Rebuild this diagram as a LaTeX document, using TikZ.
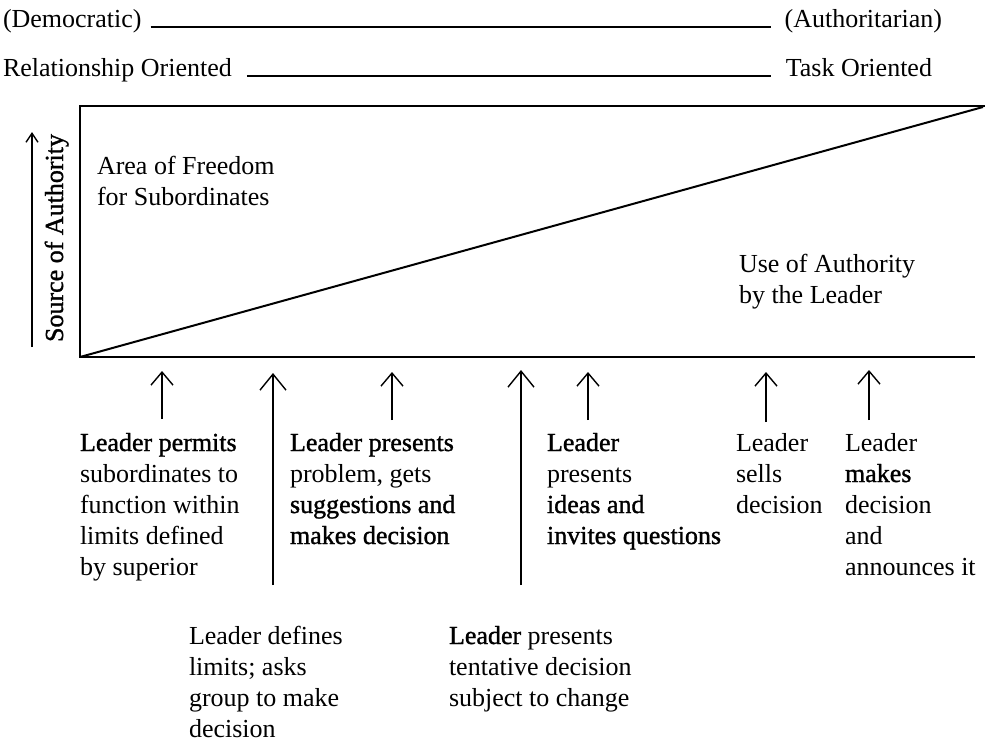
\documentclass[tikz,border=0pt]{standalone}
\usepackage{fontspec}
\setmainfont{Liberation Serif}
\newfontfamily\heavyserif[FakeBold=1.2]{Liberation Serif}
\usetikzlibrary{arrows.meta}
\begin{document}
\begin{tikzpicture}[x=1pt,y=-1pt,
  txt/.style={inner sep=0pt,outer sep=0pt,align=left,anchor=base west,
              font=\fontsize{26}{31}\selectfont},
  rule/.style={line width=1.3pt},
  frame/.style={line width=2pt},
  ptr/.style={line width=1.4pt,-{Straight Barb[length=13pt,width=22pt]}},
  longptr/.style={line width=1.4pt,-{Straight Barb[length=16pt,width=26pt]}},
  axisptr/.style={line width=1.4pt,-{Straight Barb[length=9pt,width=12pt]}}]
\useasboundingbox[fill=white] (0,0) rectangle (985,745);

% scale headings
\node[txt] (dem) at (3,27) {(Democratic)};
\node[txt,anchor=base east] (aut) at (942,27) {(Authoritarian)};
\draw[rule] ([xshift=9pt]dem.base east) -- ([xshift=-14pt]aut.base west);
\node[txt] (rel) at (3,76) {Relationship Oriented};
\node[txt,anchor=base east] (task) at (932,76) {Task Oriented};
\draw[rule] ([xshift=15pt]rel.base east) -- ([xshift=-15pt]task.base west);

% frame and dividing diagonal
\coordinate (tl) at (80,106);
\coordinate (tr) at (985,106);
\coordinate (bl) at (80,357);
\coordinate (br) at (975,357);
\coordinate (top) at (983,107);
\draw[frame] (tr) -- (tl) -- (bl) -- (br);
\draw[frame] (bl) -- (top);

% vertical axis
\coordinate (ax0) at (32,347);
\coordinate (ax1) at (32,132);
\draw[axisptr] (ax0) -- (ax1);
\node[txt,rotate=90,anchor=base] (src) at (63,238) {\heavyserif Source of Authority};

% multi-line labels are anchored at the baseline of their last line
\node[txt] (free) at (97,205) {Area of Freedom\\for Subordinates};
\node[txt] (use) at (739,303) {Use of Authority\\by the Leader};

% behaviour labels
\node[txt] (la) at (80,575) {{\heavyserif Leader permits}\\subordinates to\\function within\\limits defined\\by superior};
\node[txt] (lb) at (290,544) {{\heavyserif Leader presents}\\problem, gets\\{\heavyserif suggestions and}\\{\heavyserif makes decision}};
\node[txt] (lc) at (547,544) {{\heavyserif Leader}\\presents\\{\heavyserif ideas and}\\{\heavyserif invites questions}};
\node[txt] (ld) at (736,513) {Leader\\sells\\decision};
\node[txt] (le) at (845,575) {Leader\\{\heavyserif makes}\\decision\\and\\announces it};
\node[txt] (lf) at (189,737) {Leader defines\\limits; asks\\group to make\\decision};
\node[txt] (lg) at (449,706) {{\heavyserif Leader} presents\\tentative decision\\subject to change};

% pointers to the continuum
\foreach \n/\x/\yt/\yb in {1/162/371/419, 3/392/372/420, 5/588/372/420, 6/766/372/422, 7/869/370/420}{
  \coordinate (t\n) at (\x,\yt);
  \coordinate (b\n) at (\x,\yb);
  \draw[ptr] (b\n) -- (t\n);
}
\foreach \n/\x/\yt/\yb in {2/273/373/585, 4/521/370/585}{
  \coordinate (t\n) at (\x,\yt);
  \coordinate (b\n) at (\x,\yb);
  \draw[longptr] (b\n) -- (t\n);
}
\end{tikzpicture}
\end{document}
